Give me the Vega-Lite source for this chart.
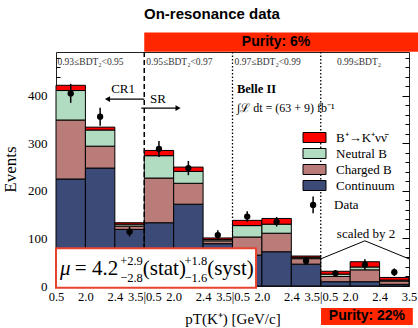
{
  "$schema": "https://vega.github.io/schema/vega-lite/v6.json",
  "width": 353,
  "height": 234,
  "autosize": "none",
  "padding": {"left": 56, "top": 52, "right": 9, "bottom": 42},
  "background": "white",
  "config": {
    "view": {"stroke": "#222", "strokeWidth": 1},
    "font": "Liberation Serif",
    "text": {"font": "Liberation Serif", "color": "black"},
    "axisX": {"labelOverlap": false, "labelFlush": false}
  },
  "data": {"values": [{}]},
  "datasets": {
    "bins": [
      {"lo": 0, "hi": 1, "continuum": 225, "charged": 124, "neutral": 62, "signal": 11},
      {"lo": 1, "hi": 2, "continuum": 248, "charged": 46, "neutral": 34, "signal": 6},
      {"lo": 2, "hi": 3, "continuum": 119, "charged": 7, "neutral": 4, "signal": 3},
      {"lo": 3, "hi": 4, "continuum": 133, "charged": 94, "neutral": 47, "signal": 11},
      {"lo": 4, "hi": 5, "continuum": 172, "charged": 44, "neutral": 25, "signal": 9},
      {"lo": 5, "hi": 6, "continuum": 89, "charged": 6, "neutral": 3, "signal": 3},
      {"lo": 6, "hi": 7, "continuum": 65, "charged": 38, "neutral": 24, "signal": 11},
      {"lo": 7, "hi": 8, "continuum": 72, "charged": 39, "neutral": 19, "signal": 12},
      {"lo": 8, "hi": 9, "continuum": 46, "charged": 11.5, "neutral": 3, "signal": 2.5},
      {"lo": 9, "hi": 10, "continuum": 9, "charged": 11, "neutral": 5, "signal": 6},
      {"lo": 10, "hi": 11, "continuum": 9, "charged": 25, "neutral": 6, "signal": 11},
      {"lo": 11, "hi": 12, "continuum": 3.5, "charged": 7, "neutral": 2, "signal": 5.5}
    ],
    "obs": [
      {"mid": 0.5, "val": 405, "err": 20},
      {"mid": 1.5, "val": 356, "err": 19},
      {"mid": 2.5, "val": 114, "err": 10},
      {"mid": 3.5, "val": 288, "err": 17},
      {"mid": 4.5, "val": 248, "err": 15},
      {"mid": 5.5, "val": 107, "err": 10},
      {"mid": 6.5, "val": 146, "err": 11},
      {"mid": 7.5, "val": 135, "err": 10},
      {"mid": 8.5, "val": 52.6, "err": 8},
      {"mid": 9.5, "val": 26.7, "err": 7},
      {"mid": 10.5, "val": 45, "err": 11},
      {"mid": 11.5, "val": 29, "err": 8}
    ]
  },
  "resolve": {"axis": {"x": "independent", "y": "independent"}},
  "layer": [
    {
      "data": {"name": "bins"},
      "transform": [
        {"fold": ["continuum", "charged", "neutral", "signal"], "as": ["comp", "n"]},
        {"stack": "n", "groupby": ["lo"], "as": ["y0", "y1"]}
      ],
      "mark": {"type": "rect", "stroke": "black", "strokeWidth": 1, "opacity": 1},
      "encoding": {
        "x": {"field": "lo", "type": "quantitative", "scale": {"domain": [0, 12], "nice": false, "zero": false},
          "axis": {"values": [0,1,2,3,4,5,6,7,8,9,10,11,12], "labelExpr": "['0.5','2.0','2.4','3.5|0.5','2.0','2.4','3.5|0.5','2.0','2.4','3.5|0.5','2.0','2.4','3.5'][round(datum.value)]",
            "title": "pT(K⁺) [GeV/c]", "ticks": false, "domain": false, "grid": false, "labelFontSize": 12.5, "labelPadding": 4, "labelColor": "black", "labelFont": "Liberation Serif", "labelFlush": false, "labelOverlap": false, "labelBound": false,
            "titleFontSize": 15, "titleFontWeight": "normal", "titleFont": "Liberation Serif", "titleColor": "black", "titlePadding": 9}},
        "x2": {"field": "hi"},
        "y": {"field": "y0", "type": "quantitative", "scale": {"domain": [0, 492], "nice": false},
          "axis": {"values": [0,20,40,60,80,100,120,140,160,180,200,220,240,260,280,300,320,340,360,380,400,420,440,460,480],
            "labelExpr": "datum.value % 100 === 0 ? datum.label : ''",
            "tickSize": {"condition": {"test": "datum.value % 100 === 0", "value": -7}, "value": -4},
            "tickColor": "black", "domain": false, "grid": false, "labelFontSize": 13, "labelPadding": 16, "labelColor": "black", "labelFont": "Liberation Serif",
            "title": "Events", "titleFontSize": 17, "titleFontWeight": "normal", "titleFont": "Liberation Serif", "titleColor": "black", "titlePadding": 8}},
        "y2": {"field": "y1"},
        "fill": {"field": "comp", "type": "nominal",
          "scale": {"domain": ["signal", "neutral", "charged", "continuum"], "range": ["#ff0000", "#b2dcc2", "#b97c78", "#3c4a78"]},
          "legend": {"orient": "none", "legendX": 252, "legendY": 79, "title": null, "symbolType": "M-2,-0.87H2V0.87H-2Z", "symbolSize": 132,
            "symbolStrokeColor": "black", "symbolStrokeWidth": 1, "symbolOpacity": 1, "labelFontSize": 13, "labelFont": "Liberation Serif", "labelColor": "black",
            "rowPadding": 1, "labelOffset": 15,
            "labelExpr": "datum.value === 'signal' ? 'B⁺→K⁺νν̄' : datum.value === 'neutral' ? 'Neutral B' : datum.value === 'charged' ? 'Charged B' : 'Continuum'"}}
      }
    },
    {
      "data": {"name": "obs"},
      "mark": {"type": "errorbar", "color": "black", "thickness": 1.5},
      "encoding": {
        "x": {"field": "mid", "type": "quantitative", "axis": null},
        "y": {"field": "val", "type": "quantitative", "axis": null},
        "yError": {"field": "err"}
      }
    },
    {
      "data": {"name": "obs"},
      "mark": {"type": "point", "filled": true, "color": "black", "size": 40, "opacity": 1},
      "encoding": {
        "x": {"field": "mid", "type": "quantitative", "axis": null},
        "y": {"field": "val", "type": "quantitative",
          "axis": {"orient": "right", "values": [0,20,40,60,80,100,120,140,160,180,200,220,240,260,280,300,320,340,360,380,400,420,440,460,480],
            "labels": false, "domain": false, "grid": false, "title": null, "tickColor": "black",
            "tickSize": {"condition": {"test": "datum.value % 100 === 0", "value": -7}, "value": -4}}}
      }
    },
    {
      "mark": {"type": "rule", "color": "black", "strokeWidth": 1.5, "strokeDash": [5, 3]},
      "encoding": {"x": {"datum": 3, "axis": null}}
    },
    {
      "mark": {"type": "rule", "color": "black", "strokeWidth": 1.3, "strokeDash": [1.5, 2]},
      "encoding": {"x": {"datum": 6, "axis": null}}
    },
    {
      "mark": {"type": "rule", "color": "black", "strokeWidth": 1.3, "strokeDash": [1.5, 2]},
      "encoding": {"x": {"datum": 9, "axis": null}}
    },
    {
      "mark": {"type": "text", "font": "Liberation Sans", "fontWeight": "bold", "fontSize": 15, "color": "black", "baseline": "middle", "align": "center"},
      "encoding": {"x": {"datum": 5.3, "axis": null}, "y": {"datum": 572.6, "axis": null}, "text": {"value": "On-resonance data"}}
    },
    {
      "mark": {"type": "rect", "fill": "#ff2600"},
      "encoding": {"x": {"datum": 3, "axis": null}, "x2": {"datum": 12.31}, "y": {"datum": 492.5, "axis": null}, "y2": {"datum": 533}}
    },
    {
      "mark": {"type": "text", "font": "Liberation Sans", "fontWeight": "bold", "fontSize": 14, "color": "black", "baseline": "middle"},
      "encoding": {"x": {"datum": 7.48, "axis": null}, "y": {"datum": 512, "axis": null}, "text": {"value": "Purity: 6%"}}
    },
    {
      "mark": {"type": "rect", "fill": "#ff2600"},
      "encoding": {"x": {"datum": 9.01, "axis": null}, "x2": {"datum": 12.13}, "y": {"datum": -46.3, "axis": null}, "y2": {"datum": -82}}
    },
    {
      "mark": {"type": "text", "font": "Liberation Sans", "fontWeight": "bold", "fontSize": 14, "color": "black", "baseline": "middle"},
      "encoding": {"x": {"datum": 10.57, "axis": null}, "y": {"datum": -64, "axis": null}, "text": {"value": "Purity: 22%"}}
    },
    {
      "mark": {"type": "rect", "fill": "white", "stroke": "#e8432f", "strokeWidth": 2},
      "encoding": {"x": {"datum": 0, "axis": null}, "x2": {"datum": 6.8}, "y": {"datum": -3.6, "axis": null}, "y2": {"datum": 79.4}}
    },
    {
      "mark": {"type": "text", "fontSize": 21, "align": "left", "baseline": "middle", "fontStyle": "italic"},
      "encoding": {"x": {"datum": 0.14, "axis": null}, "y": {"datum": 35.8, "axis": null}, "text": {"value": "μ"}}
    },
    {
      "mark": {"type": "text", "fontSize": 21, "align": "left", "baseline": "middle"},
      "encoding": {"x": {"datum": 0.64, "axis": null}, "y": {"datum": 35.8, "axis": null}, "text": {"value": "= 4.2"}}
    },
    {
      "mark": {"type": "text", "fontSize": 12.5, "align": "left", "baseline": "middle"},
      "encoding": {"x": {"datum": 2.18, "axis": null}, "y": {"datum": 53, "axis": null}, "text": {"value": "+2.9"}}
    },
    {
      "mark": {"type": "text", "fontSize": 12.5, "align": "left", "baseline": "middle"},
      "encoding": {"x": {"datum": 2.18, "axis": null}, "y": {"datum": 17, "axis": null}, "text": {"value": "−2.8"}}
    },
    {
      "mark": {"type": "text", "fontSize": 21, "align": "left", "baseline": "middle"},
      "encoding": {"x": {"datum": 2.95, "axis": null}, "y": {"datum": 35.8, "axis": null}, "text": {"value": "(stat)"}}
    },
    {
      "mark": {"type": "text", "fontSize": 12.5, "align": "left", "baseline": "middle"},
      "encoding": {"x": {"datum": 4.37, "axis": null}, "y": {"datum": 53, "axis": null}, "text": {"value": "+1.8"}}
    },
    {
      "mark": {"type": "text", "fontSize": 12.5, "align": "left", "baseline": "middle"},
      "encoding": {"x": {"datum": 4.37, "axis": null}, "y": {"datum": 17, "axis": null}, "text": {"value": "−1.6"}}
    },
    {
      "mark": {"type": "text", "fontSize": 21, "align": "left", "baseline": "middle"},
      "encoding": {"x": {"datum": 5.14, "axis": null}, "y": {"datum": 35.8, "axis": null}, "text": {"value": "(syst)"}}
    },
    {
      "mark": {"type": "text", "fontSize": 9.5, "align": "left", "baseline": "middle", "color": "#333"},
      "encoding": {"x": {"datum": 0.05, "axis": null}, "y": {"datum": 471.6, "axis": null}, "text": {"value": "0.93≤BDT₂<0.95"}}
    },
    {
      "mark": {"type": "text", "fontSize": 9.5, "align": "left", "baseline": "middle", "color": "#333"},
      "encoding": {"x": {"datum": 3.07, "axis": null}, "y": {"datum": 471.6, "axis": null}, "text": {"value": "0.95≤BDT₂<0.97"}}
    },
    {
      "mark": {"type": "text", "fontSize": 9.5, "align": "left", "baseline": "middle", "color": "#333"},
      "encoding": {"x": {"datum": 6.07, "axis": null}, "y": {"datum": 471.6, "axis": null}, "text": {"value": "0.97≤BDT₂<0.99"}}
    },
    {
      "mark": {"type": "text", "fontSize": 9.5, "align": "left", "baseline": "middle", "color": "#333"},
      "encoding": {"x": {"datum": 9.55, "axis": null}, "y": {"datum": 471.6, "axis": null}, "text": {"value": "0.99≤BDT₂"}}
    },
    {
      "mark": {"type": "text", "fontSize": 13, "align": "center", "baseline": "middle"},
      "encoding": {"x": {"datum": 2.28, "axis": null}, "y": {"datum": 414.7, "axis": null}, "text": {"value": "CR1"}}
    },
    {
      "mark": {"type": "rule", "color": "black", "strokeWidth": 1.3},
      "encoding": {"x": {"datum": 1.75, "axis": null}, "x2": {"datum": 3.0}, "y": {"datum": 393, "axis": null}}
    },
    {
      "mark": {"type": "point", "shape": "triangle-left", "filled": true, "color": "black", "size": 35, "opacity": 1},
      "encoding": {"x": {"datum": 1.75, "axis": null}, "y": {"datum": 393, "axis": null}}
    },
    {
      "mark": {"type": "text", "fontSize": 13, "align": "center", "baseline": "middle"},
      "encoding": {"x": {"datum": 3.47, "axis": null}, "y": {"datum": 393.7, "axis": null}, "text": {"value": "SR"}}
    },
    {
      "mark": {"type": "rule", "color": "black", "strokeWidth": 1.3},
      "encoding": {"x": {"datum": 2.9, "axis": null}, "x2": {"datum": 4.15}, "y": {"datum": 374, "axis": null}}
    },
    {
      "mark": {"type": "point", "shape": "triangle-right", "filled": true, "color": "black", "size": 35, "opacity": 1},
      "encoding": {"x": {"datum": 4.15, "axis": null}, "y": {"datum": 374, "axis": null}}
    },
    {
      "mark": {"type": "text", "fontSize": 12.5, "fontWeight": "bold", "align": "left", "baseline": "middle"},
      "encoding": {"x": {"datum": 6.15, "axis": null}, "y": {"datum": 414.7, "axis": null}, "text": {"value": "Belle II"}}
    },
    {
      "mark": {"type": "text", "fontSize": 12, "align": "left", "baseline": "middle"},
      "encoding": {"x": {"datum": 6.15, "axis": null}, "y": {"datum": 375, "axis": null}, "text": {"value": "∫ℒ dt = (63 + 9) fb⁻¹"}}
    },
    {
      "mark": {"type": "text", "fontSize": 13, "align": "center", "baseline": "middle"},
      "encoding": {"x": {"datum": 10.54, "axis": null}, "y": {"datum": 109.5, "axis": null}, "text": {"value": "scaled by 2"}}
    },
    {
      "mark": {"type": "rule", "color": "black", "strokeWidth": 1},
      "encoding": {"x": {"datum": 9.0, "axis": null}, "x2": {"datum": 10.5}, "y": {"datum": 57, "axis": null}, "y2": {"datum": 95}}
    },
    {
      "mark": {"type": "rule", "color": "black", "strokeWidth": 1},
      "encoding": {"x": {"datum": 10.5, "axis": null}, "x2": {"datum": 12.0}, "y": {"datum": 95, "axis": null}, "y2": {"datum": 57}}
    },
    {
      "mark": {"type": "rule", "color": "black", "strokeWidth": 1.5},
      "encoding": {"x": {"datum": 8.74, "axis": null}, "y": {"datum": 153, "axis": null}, "y2": {"datum": 188}}
    },
    {
      "mark": {"type": "point", "filled": true, "color": "black", "size": 40, "opacity": 1},
      "encoding": {"x": {"datum": 8.74, "axis": null}, "y": {"datum": 170.5, "axis": null}}
    },
    {
      "mark": {"type": "text", "fontSize": 13, "align": "left", "baseline": "middle"},
      "encoding": {"x": {"datum": 9.45, "axis": null}, "y": {"datum": 170.5, "axis": null}, "text": {"value": "Data"}}
    }
  ]
}
